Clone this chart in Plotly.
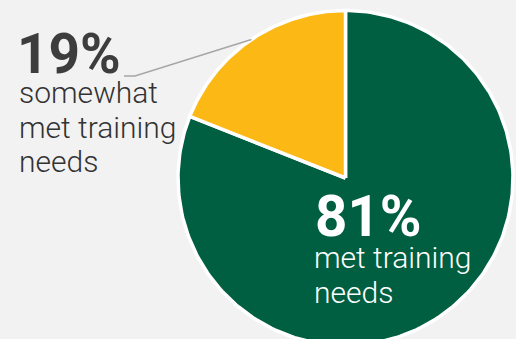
import numpy as np
import plotly.graph_objects as go

# Survey result: share of respondents whose training needs were met
labels = ["met training needs", "somewhat met training needs"]
values = [81, 19]
colors = ["#005f41", "#fcb814"]
desc_lines = [["met training", "needs"], ["somewhat", "met training", "needs"]]

W, H = 516, 339
CX, CY, R = 345.5, 178.0, 167.5   # pie centre and radius in pixel units

fig = go.Figure()

# Slices run clockwise from 12 o'clock, angles derived from the values
total = sum(values)
start = 90.0
mid_angles = []
for lab, val, col in zip(labels, values, colors):
    sweep = 360.0 * val / total
    ang = np.radians(np.linspace(start, start - sweep, 240))
    xs = np.concatenate([[CX], CX + R * np.cos(ang), [CX]])
    ys = np.concatenate([[CY], CY - R * np.sin(ang), [CY]])
    fig.add_trace(go.Scatter(
        x=xs, y=ys, mode="lines", fill="toself", fillcolor=col,
        line=dict(color="white", width=3.5), name=lab, hoverinfo="name",
    ))
    mid_angles.append(np.radians(start - sweep / 2))
    start -= sweep

# Leader line from the small slice to its label
ma = mid_angles[1]
ex, ey = CX + R * np.cos(ma), CY - R * np.sin(ma)
fig.add_shape(type="path", xref="x", yref="y",
              path=f"M 124,76 L 135,76 L {ex:.1f},{ey:.1f}",
              line=dict(color="#a6a6a6", width=1.5))

txt_font = dict(family="Roboto", size=30, weight=300)
LINE = 34.5


def label_block(x_num, x_txt, y_num, y_txt, value, lines, color_num, color_txt, num_size):
    fig.add_annotation(x=x_num, y=y_num, xref="x", yref="y", xanchor="left", yanchor="top",
                       text=f"{value}%", showarrow=False,
                       font=dict(family="Roboto", size=num_size, weight=700, color=color_num))
    for i, line in enumerate(lines):
        fig.add_annotation(x=x_txt, y=y_txt + i * LINE, xref="x", yref="y",
                           xanchor="left", yanchor="top", text=line, showarrow=False,
                           font=dict(txt_font, color=color_txt))


label_block(15, 17, 20, 73, values[1], desc_lines[1], "#3d3d3d", "#333333", 55)
label_block(313, 312, 182, 238, values[0], desc_lines[0], "white", "white", 56.5)

fig.update_layout(
    width=W, height=H, margin=dict(l=0, r=0, t=0, b=0),
    paper_bgcolor="#f2f2f2", plot_bgcolor="#f2f2f2", showlegend=False,
    xaxis=dict(range=[0, W], visible=False, fixedrange=True),
    yaxis=dict(range=[H, 0], visible=False, fixedrange=True),
)

fig.write_html("out.html")
